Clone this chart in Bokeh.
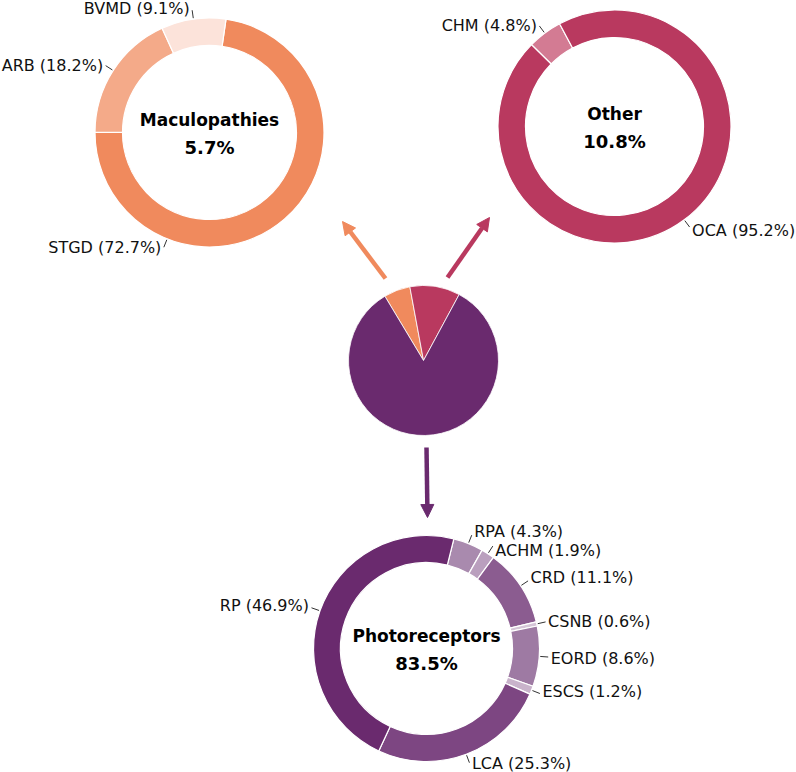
import math
from bokeh.plotting import figure
from bokeh.models import Range1d, Arrow, NormalHead
from bokeh.core.properties import value
from bokeh.embed import file_html
from bokeh.resources import INLINE

# ---------------- data ----------------
overall_labels = ["Maculopathies", "Other", "Photoreceptors"]
overall_values = [5.7, 10.8, 83.5]
overall_colors = ["#F08A5D", "#B9395F", "#6A2A6E"]

macul_labels = ["STGD", "ARB", "BVMD"]
macul_values = [72.7, 18.2, 9.1]
macul_colors = ["#F08A5D", "#F4AA89", "#FCE3DA"]

other_labels = ["CHM", "OCA"]
other_values = [4.8, 95.2]
other_colors = ["#D37B93", "#B9395F"]

photo_labels = ["RPA", "ACHM", "CRD", "CSNB", "EORD", "ESCS", "LCA", "RP"]
photo_values = [4.3, 1.9, 11.1, 0.6, 8.6, 1.2, 25.3, 46.9]
photo_colors = ["#A98AAE", "#BA9FBE", "#8B5C90", "#D5C5D7", "#9E7AA3", "#C9B3CB", "#7D4682", "#6A2A6E"]

# ---------------- layout ----------------
W, H = 796, 772
FONT = value("DejaVu Sans")


def X(px):
    return px


def Y(py):
    return H - py


p = figure(width=W, height=H, x_range=Range1d(0, W), y_range=Range1d(0, H),
           output_backend="svg", toolbar_location=None,
           x_axis_type=None, y_axis_type=None, min_border=0)
p.grid.visible = False
p.outline_line_color = None
p.background_fill_color = "white"
p.border_fill_color = "white"


def seg_angles(values, start):
    total = sum(values)
    out = []
    a = start
    for v in values:
        b = a + 360.0 * v / total
        out.append((a, b))
        a = b
    return out


def donut(cx, cy, r_out, r_in, start, labels, values, colors, title, total,
          angle_override=None, dys=None):
    angs = seg_angles(values, start)
    xs = [X(cx)] * len(values)
    ys = [Y(cy)] * len(values)
    sa = [math.radians(90 - b) for a, b in angs]
    ea = [math.radians(90 - a) for a, b in angs]
    p.annular_wedge(x=xs, y=ys, inner_radius=r_in, outer_radius=r_out,
                    start_angle=sa, end_angle=ea, fill_color=colors,
                    line_color="white", line_width=1.2)
    # labels
    x0s, y0s, x1s, y1s = [], [], [], []
    tl, tr = ([], [], []), ([], [], [])
    for i, (lab, v) in enumerate(zip(labels, values)):
        a, b = angs[i]
        m = (a + b) / 2.0
        if angle_override and lab in angle_override:
            m = angle_override[lab]
        s, c = math.sin(math.radians(m)), math.cos(math.radians(m))
        r0, r1 = r_out + 1, r_out + 9
        px0, py0 = cx + r0 * s, cy - r0 * c
        px1, py1 = cx + r1 * s, cy - r1 * c
        x0s.append(X(px0)); y0s.append(Y(py0))
        x1s.append(X(px1)); y1s.append(Y(py1))
        dy = dys[i] if dys else 0
        txt = f"{lab} ({v}%)"
        if s < 0:
            tr[0].append(X(px1 - 2.5)); tr[1].append(Y(py1 + dy)); tr[2].append(txt)
        else:
            tl[0].append(X(px1 + 2.5)); tl[1].append(Y(py1 + dy)); tl[2].append(txt)
    p.segment(x0=x0s, y0=y0s, x1=x1s, y1=y1s, line_color="#333333", line_width=1)
    for (tx, ty, tt), align in ((tl, "left"), (tr, "right")):
        if tt:
            p.text(x=tx, y=ty, text=tt, text_align=align, text_baseline="middle",
                   text_font=FONT, text_font_size="16px", text_color="#111111")
    # centre text
    p.text(x=[X(cx)], y=[Y(cy - 13)], text=[title], text_align="center",
           text_baseline="middle", text_font=FONT, text_font_size="17px",
           text_font_style="bold", text_color="#000000")
    p.text(x=[X(cx)], y=[Y(cy + 15)], text=[f"{total}%"], text_align="center",
           text_baseline="middle", text_font=FONT, text_font_size="18px",
           text_font_style="bold", text_color="#000000")


# central pie
pie_cx, pie_cy, pie_r = 423, 360, 75
pangs = seg_angles(overall_values, -31.0)
p.wedge(x=[X(pie_cx)] * 3, y=[Y(pie_cy)] * 3, radius=pie_r,
        start_angle=[math.radians(90 - b) for a, b in pangs],
        end_angle=[math.radians(90 - a) for a, b in pangs],
        fill_color=overall_colors, line_color="white", line_width=0.8)

# arrows (tail -> tip), screen coords
arrows = [((385, 278), (342, 221), overall_colors[0]),
          ((447, 277), (489, 217), overall_colors[1]),
          ((426, 447), (427, 517), overall_colors[2])]
for (tx, ty), (hx, hy), col in arrows:
    p.add_layout(Arrow(end=NormalHead(size=13, fill_color=col, line_color=col, line_width=1),
                       x_start=X(tx), y_start=Y(ty), x_end=X(hx), y_end=Y(hy),
                       line_color=col, line_width=4.5))

donut(209, 132, 114.5, 87, 8.3, macul_labels, macul_values, macul_colors,
      overall_labels[0], overall_values[0],
      angle_override={"STGD": 201.7}, dys=[0, 0, -2])
donut(614, 126, 116.5, 89, -45.4, other_labels, other_values, other_colors,
      overall_labels[1], overall_values[1], dys=[0, 3])
donut(426, 648, 113, 86, 14.0, photo_labels, photo_values, photo_colors,
      overall_labels[2], overall_values[2],
      dys=[-4, 4, -3, 0, 1.5, -2, 1, -2])

open("out.html", "w").write(file_html(p, INLINE))
